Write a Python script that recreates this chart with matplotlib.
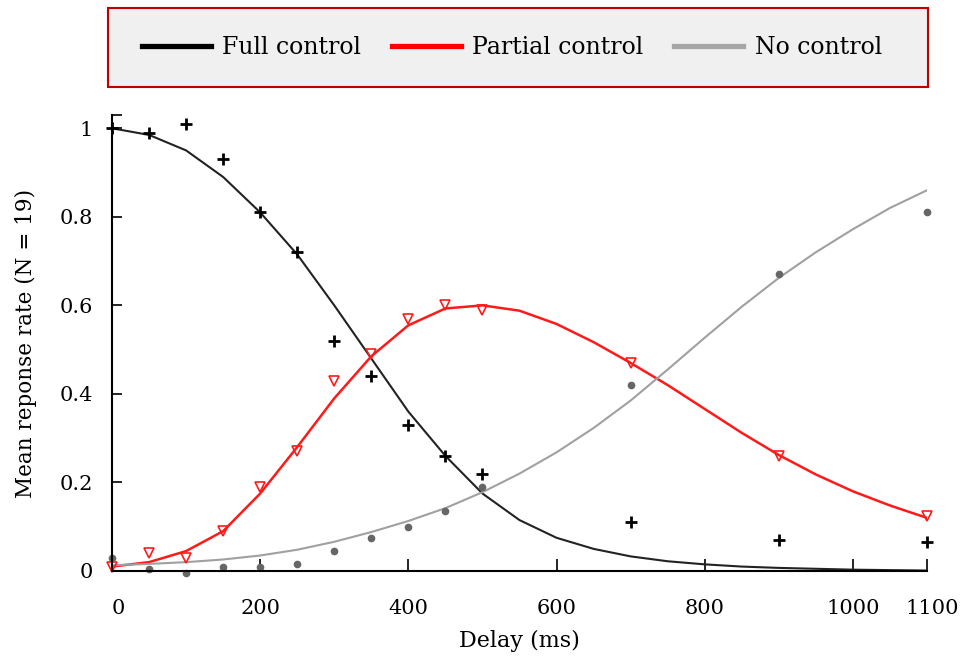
import numpy as np
import matplotlib
matplotlib.use('Agg')
import matplotlib.pyplot as plt
import matplotlib.transforms as mtransforms
from matplotlib.patches import Rectangle
from matplotlib.lines import Line2D

plt.rcParams['font.family'] = ['DejaVu Serif']

# measured delays (ms)
delay = [0, 50, 100, 150, 200, 250, 300, 350, 400, 450, 500, 700, 900, 1100]
full_pts = [1.0, 0.99, 1.01, 0.93, 0.81, 0.72, 0.52, 0.44, 0.33, 0.26, 0.22, 0.11, 0.07, 0.065]
partial_pts = [0.01, 0.04, 0.03, 0.09, 0.19, 0.27, 0.43, 0.49, 0.57, 0.60, 0.59, 0.47, 0.26, 0.125]
none_pts = [0.03, 0.005, -0.005, 0.01, 0.01, 0.015, 0.045, 0.075, 0.10, 0.135, 0.19, 0.42, 0.67, 0.81]

# fitted curves, every 50 ms
fit_x = [0, 50, 100, 150, 200, 250, 300, 350, 400, 450, 500, 550, 600, 650, 700,
         750, 800, 850, 900, 950, 1000, 1050, 1100]
full_fit = [1.0, 0.985, 0.95, 0.89, 0.81, 0.715, 0.60, 0.48, 0.36, 0.26, 0.175, 0.115, 0.075,
            0.05, 0.033, 0.022, 0.015, 0.01, 0.007, 0.005, 0.003, 0.002, 0.001]
partial_fit = [0.01, 0.02, 0.045, 0.09, 0.175, 0.28, 0.39, 0.485, 0.555, 0.593, 0.60, 0.588, 0.558,
               0.517, 0.47, 0.42, 0.366, 0.312, 0.262, 0.218, 0.18, 0.148, 0.12]
none_fit = [0.013, 0.016, 0.02, 0.026, 0.035, 0.048, 0.066, 0.088, 0.113, 0.142, 0.178, 0.22, 0.268,
            0.323, 0.385, 0.455, 0.527, 0.597, 0.662, 0.72, 0.772, 0.82, 0.86]

xticks = [0, 200, 400, 600, 800, 1000, 1100]
yticks = [0, 0.2, 0.4, 0.6, 0.8, 1.0]
ytick_labels = ['0', '0.2', '0.4', '0.6', '0.8', '1']

fig = plt.figure(figsize=(9.64, 6.63), dpi=100)
ax = fig.add_axes([112/964, 92/663, 815/964, 456/663])

ax.plot(fit_x, full_fit, color='#222222', lw=1.5)
ax.plot(fit_x, partial_fit, color='#ff1a1a', lw=1.8)
ax.plot(fit_x, none_fit, color='#a0a0a0', lw=1.5)

ax.plot(delay, full_pts, ls='none', marker='+', ms=9, mew=2, color='black', clip_on=False)
ax.plot(delay, partial_pts, ls='none', marker='v', ms=7, mew=1.2, mfc='none', mec='#ff1a1a', clip_on=False)
ax.plot(delay, none_pts, ls='none', marker='o', ms=4.5, color='#666666', clip_on=False)

ax.set_xlim(0, 1100)
ax.set_ylim(0, 1.03)
ax.set_xticks(xticks)
ax.set_yticks(yticks)
ax.set_yticklabels(ytick_labels)
ax.set_yticks([1.03], minor=True)
ax.spines['top'].set_visible(False)
ax.spines['right'].set_visible(False)
ax.spines['left'].set_linewidth(1.5)
ax.spines['bottom'].set_linewidth(1.5)
ax.tick_params(axis='x', direction='in', length=9, width=1.2, pad=20, labelsize=15)
ax.tick_params(axis='y', which='both', direction='in', length=7, width=1.2, pad=14, labelsize=15)
ax.set_xlabel('Delay (ms)', fontsize=16, labelpad=9)
ax.set_ylabel('Mean reponse rate (N = 19)', fontsize=15.5, labelpad=16)

# the end labels sit a little to the right in the original
for lab, dx in zip(ax.get_xticklabels(), [6, 0, 0, 0, 0, 0, 5]):
    lab.set_transform(lab.get_transform() + mtransforms.ScaledTranslation(dx/100, 0, fig.dpi_scale_trans))

# legend box at the top
fig.patches.append(Rectangle((108/964, 1 - 87/663), 820/964, 79/663, transform=fig.transFigure,
                             facecolor='#f0f0f0', edgecolor='#c00000', lw=1.5))
handles = [Line2D([], [], color='black', lw=3.8),
           Line2D([], [], color='#ff0000', lw=3.8),
           Line2D([], [], color='#a6a6a6', lw=3.8)]
fig.legend(handles, ['Full control', 'Partial control', 'No control'], ncol=3, frameon=False,
           loc='center', bbox_to_anchor=(512/964, 1 - 48/663), fontsize=17,
           handlelength=2.9, handletextpad=0.5, columnspacing=1.3)

fig.savefig('out.png', dpi=100)
